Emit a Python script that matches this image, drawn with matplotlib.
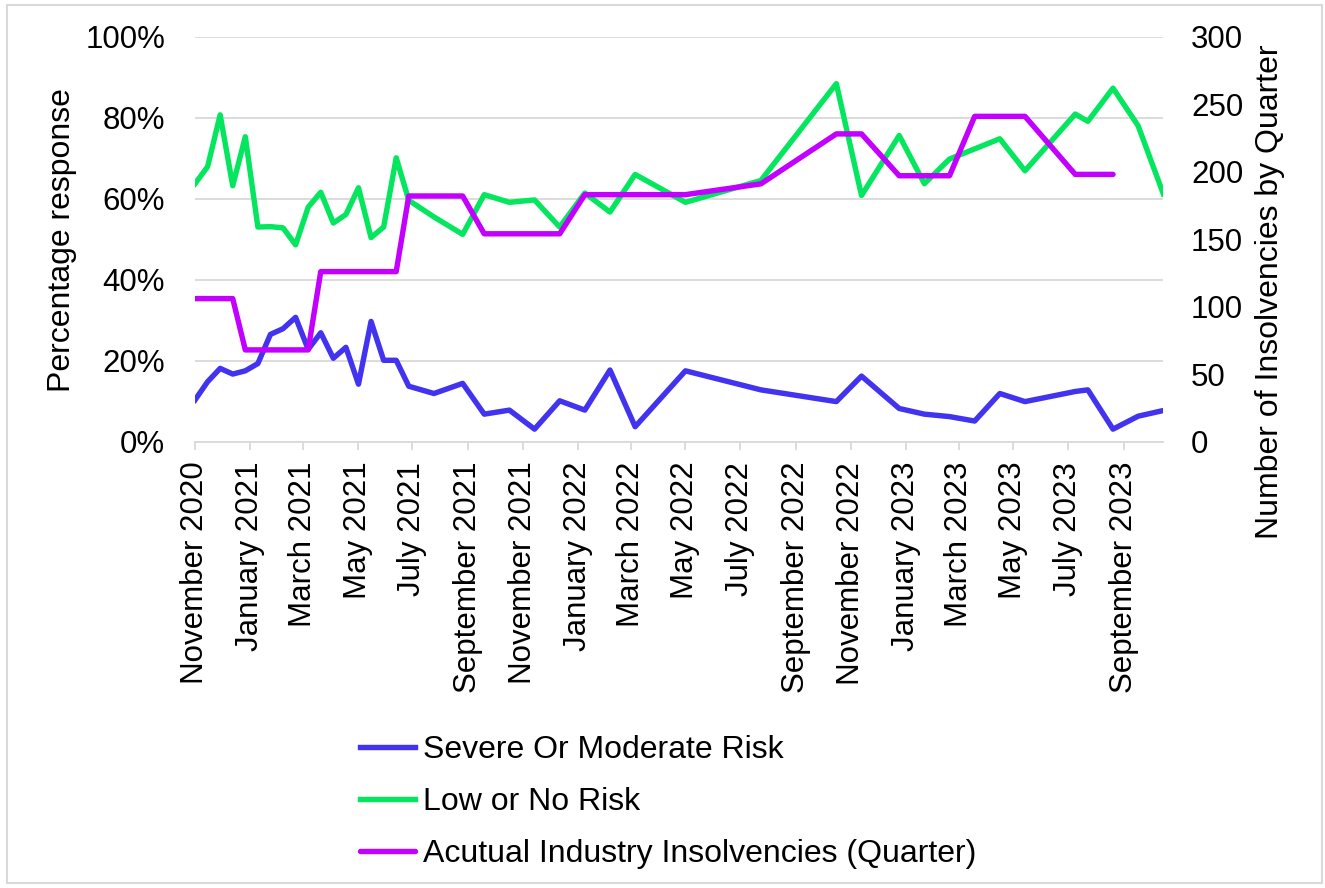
import pandas as pd
import matplotlib.pyplot as plt
import matplotlib.dates as mdates
from matplotlib.patches import Rectangle
import numpy as np

plt.rcParams['font.family'] = ['Liberation Sans', 'DejaVu Sans']

dates = ['2020-11-01', '2020-11-15', '2020-11-29', '2020-12-13', '2020-12-27',
         '2021-01-10', '2021-01-24', '2021-02-07', '2021-02-21', '2021-03-07',
         '2021-03-21', '2021-04-04', '2021-04-18', '2021-05-02', '2021-05-16',
         '2021-05-30', '2021-06-13', '2021-06-27', '2021-07-25', '2021-08-26',
         '2021-09-19', '2021-10-17', '2021-11-14', '2021-12-12', '2022-01-09',
         '2022-02-06', '2022-03-06', '2022-05-01', '2022-07-24', '2022-10-16',
         '2022-11-13', '2022-12-25', '2023-01-22', '2023-02-19', '2023-03-19',
         '2023-04-16', '2023-05-14', '2023-07-09', '2023-07-23', '2023-08-20',
         '2023-09-17', '2023-10-15']

severe = [10.3, 14.8, 18.1, 16.7, 17.5, 19.3, 26.5, 27.9, 30.7, 22.8,
          26.9, 20.6, 23.3, 14.2, 29.7, 20.1, 20.1, 13.7, 11.9, 14.4,
          6.8, 7.8, 3.1, 10.1, 7.8, 17.7, 3.7, 17.5, 12.8, 9.9,
          16.2, 8.2, 6.8, 6.2, 5.1, 11.9, 9.9, 12.4, 12.8, 3.1,
          6.3, 7.7]

low = [63.7, 67.9, 80.7, 63.2, 75.3, 53.0, 53.1, 52.8, 48.6, 57.9,
       61.6, 54.0, 56.1, 62.7, 50.4, 53.0, 70.1, 59.6, 55.5, 51.2,
       61.0, 59.1, 59.7, 53.0, 61.4, 56.7, 66.0, 59.1, 64.5, 88.4,
       60.8, 75.6, 63.7, 69.8, 72.3, 74.8, 66.9, 80.9, 79.1, 87.3,
       78.0, 61.2]

insolv = [106, 106, 106, 106, 68, 68, 68, 68, 68, 68,
          126, 126, 126, 126, 126, 126, 126, 182, 182, 182,
          154, 154, 154, 154, 183, 183, 183, 183, 191, 228,
          228, 197, 197, 197, 241, 241, 241, 198, 198, 198,
          np.nan, np.nan]

df = pd.DataFrame({'Date': pd.to_datetime(dates),
                   'Severe': severe,
                   'Low': low,
                   'Insolvencies': insolv})

c_blue = '#4133EF'
c_green = '#05E65F'
c_purple = '#C300FF'
grid_c = '#D9D9D9'
fs_tick = 22.5
fs = 23
lw = 3.9

fig = plt.figure(figsize=(13.25, 8.88), dpi=100)
fig.patches.append(Rectangle((7 / 1325, 5 / 888), 1315 / 1325, 878 / 888,
                             transform=fig.transFigure, fill=False,
                             edgecolor=grid_c, linewidth=1.5))

ax1 = fig.add_axes([195 / 1325, 1 - 441.7 / 888, 968.3 / 1325, 405 / 888])
l1, = ax1.plot(df['Date'], df['Severe'], color=c_blue, lw=lw,
               label='Severe Or Moderate Risk', solid_joinstyle='round')
l2, = ax1.plot(df['Date'], df['Low'], color=c_green, lw=lw,
               label='Low or No Risk', solid_joinstyle='round')
ax1.set_ylim(0, 100)
ax1.set_yticks(np.arange(0, 101, 20))
ax1.set_yticklabels(['{}%'.format(v) for v in range(0, 101, 20)])
ax1.set_xlim(df['Date'].iloc[0], df['Date'].iloc[-1])
ax1.xaxis.set_major_locator(mdates.MonthLocator(bymonth=[1, 3, 5, 7, 9, 11]))
ax1.xaxis.set_major_formatter(mdates.DateFormatter('%B %Y'))
ax1.grid(True, axis='y', color=grid_c, lw=1.3)
ax1.set_axisbelow(True)
for s in ['top', 'right', 'left']:
    ax1.spines[s].set_visible(False)
ax1.spines['bottom'].set_color(grid_c)
ax1.spines['bottom'].set_linewidth(1.3)
ax1.tick_params(axis='x', labelsize=fs_tick, rotation=90, color=grid_c,
                length=5.8, width=1.3, pad=8.6)
ax1.tick_params(axis='y', labelsize=fs_tick, length=0, pad=21.6)
fig.text(62 / 1325, 1 - 240 / 888, 'Percentage response',
         rotation=90, fontsize=fs, ha='center', va='center')

ax2 = ax1.twinx()
l3, = ax2.plot(df['Date'], df['Insolvencies'], color=c_purple, lw=lw,
               label='Acutual Industry Insolvencies (Quarter)',
               solid_joinstyle='round', solid_capstyle='round')
ax2.set_ylim(0, 300)
ax2.set_yticks(np.arange(0, 301, 50))
for s in ax2.spines.values():
    s.set_visible(False)
ax2.tick_params(axis='y', labelsize=fs_tick, length=0, pad=20)
fig.text(1270 / 1325, 1 - 292 / 888, 'Number of Insolvencies by Quarter',
         rotation=90, fontsize=fs, ha='center', va='center')

fig.legend(handles=[l1, l2, l3], loc='upper left',
           bbox_to_anchor=(360 / 1325, 1 - 735 / 888), frameon=False,
           fontsize=fs, handlelength=1.72, handletextpad=0.25,
           labelspacing=0.69, borderpad=0, borderaxespad=0)

fig.savefig('out.png', dpi=100)
